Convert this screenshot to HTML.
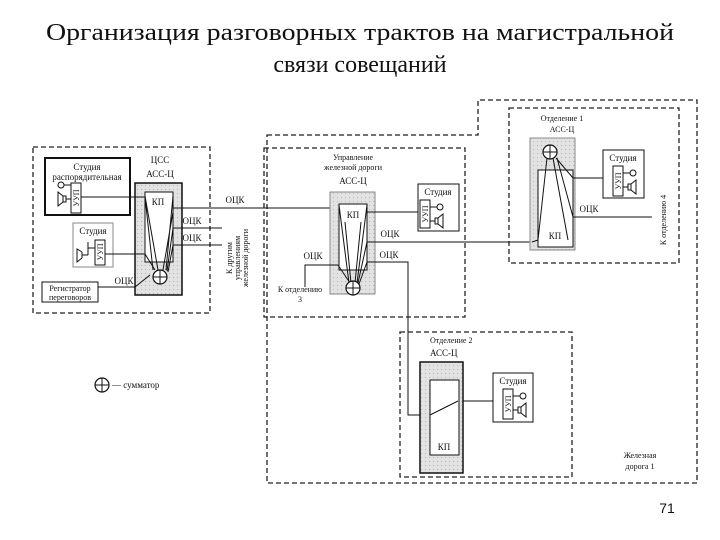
<!DOCTYPE html>
<html><head><meta charset="utf-8"><style>
html,body{margin:0;padding:0;background:#fff;}
svg{display:block;}
text{font-family:"Liberation Serif",serif;fill:#111;}
</style></head><body>
<svg width="720" height="540" viewBox="0 0 720 540" xmlns="http://www.w3.org/2000/svg">
<defs>
<pattern id="dots" width="4" height="4" patternUnits="userSpaceOnUse">
<rect width="4" height="4" fill="#e2e2e2"/><rect x="1" y="1" width="1" height="1" fill="#b8b8b8"/>
</pattern>
<g id="sum"><circle cx="0" cy="0" r="7" fill="#fff" stroke="#111" stroke-width="1.2"/><line x1="-7" y1="0" x2="7" y2="0" stroke="#111"/><line x1="0" y1="-7" x2="0" y2="7" stroke="#111"/></g>
<g id="dev" stroke="#111" fill="none" stroke-width="1">
<line x1="0" y1="7" x2="7" y2="7"/><circle cx="10" cy="7" r="3"/>
<line x1="0" y1="21" x2="5" y2="21"/><rect x="5" y="18" width="3" height="6"/><path d="M8 18 L13 14 L13 28 L8 24"/>
</g>
</defs>

<text x="360" y="40" font-size="24" text-anchor="middle" textLength="628" lengthAdjust="spacingAndGlyphs">Организация разговорных трактов на магистральной</text>
<text x="360" y="72" font-size="24" text-anchor="middle">связи совещаний</text>

<g stroke="#222" stroke-width="1.3" fill="none" stroke-dasharray="5,3">
<path d="M267 135 L478 135 L478 100 L697 100 L697 483 L267 483 Z"/>
<rect x="33" y="147" width="177" height="166"/>
<rect x="264" y="148" width="201" height="169"/>
<rect x="509" y="108" width="170" height="155"/>
<rect x="400" y="332" width="172" height="145"/>
</g>

<!-- ЦСС -->
<rect x="45" y="158" width="85" height="57" fill="#fff" stroke="#111" stroke-width="2"/>
<text x="87" y="170" font-size="9" text-anchor="middle">Студия</text>
<text x="87" y="180" font-size="9" text-anchor="middle">распорядительная</text>
<rect x="71" y="183" width="10" height="30" fill="#fff" stroke="#111"/>
<text transform="translate(79,198) rotate(-90)" font-size="8" text-anchor="middle">УУП</text>
<g transform="translate(71,178) scale(-1,1) translate(0,0)"><use href="#dev"/></g>
<rect x="73" y="223" width="40" height="44" fill="#fff" stroke="#888"/>
<text x="93" y="234" font-size="9" text-anchor="middle">Студия</text>
<rect x="95" y="240" width="10" height="25" fill="#fff" stroke="#111"/>
<text transform="translate(103,252) rotate(-90)" font-size="8" text-anchor="middle">УУП</text>
<path d="M95 248 L88 248 M88 255 L82 255 M82 252 L82 258 M82 252 L77 249 L77 262 L82 258" stroke="#111" fill="none"/>
<line x1="88" y1="242" x2="88" y2="255" stroke="#111"/>
<rect x="42" y="282" width="56" height="20" fill="#fff" stroke="#111"/>
<text x="70" y="291" font-size="8" text-anchor="middle">Регистратор</text>
<text x="70" y="300" font-size="8" text-anchor="middle">переговоров</text>
<text x="160" y="163" font-size="9" text-anchor="middle">ЦСС</text>
<text x="160" y="177" font-size="9" text-anchor="middle">АСС-Ц</text>
<rect x="135" y="183" width="47" height="112" fill="url(#dots)" stroke="#111" stroke-width="1.5"/>
<rect x="145" y="192" width="28" height="70" fill="#fff" stroke="#111"/>
<text x="158" y="205" font-size="9" text-anchor="middle">КП</text>
<g stroke="#111" fill="none">
<path d="M81 197 L145 197 L153 270 M145 196 L158 270 M173 196 L166 270 M173 212 L163 270 M173 228 L167 271 M173 245 L168 272 M105 254 L145 254 L155 270 M98 287 L135 287 L150 275"/>
<line x1="173" y1="208" x2="339" y2="208"/>
<line x1="173" y1="228" x2="222" y2="228"/>
<line x1="173" y1="245" x2="222" y2="245"/>
</g>
<use href="#sum" x="160" y="277"/>
<text x="235" y="203" font-size="9" text-anchor="middle">ОЦК</text>
<text x="192" y="224" font-size="9" text-anchor="middle">ОЦК</text>
<text x="192" y="241" font-size="9" text-anchor="middle">ОЦК</text>
<text x="124" y="284" font-size="9" text-anchor="middle">ОЦК</text>
<g font-size="8" text-anchor="middle">
<text transform="translate(232,258) rotate(-90)">К другим</text>
<text transform="translate(240,258) rotate(-90)">управлениям</text>
<text transform="translate(248,258) rotate(-90)">железной дороги</text>
</g>

<!-- Управление -->
<text x="353" y="160" font-size="8" text-anchor="middle">Управление</text>
<text x="353" y="170" font-size="8" text-anchor="middle">железной дороги</text>
<text x="353" y="184" font-size="9" text-anchor="middle">АСС-Ц</text>
<rect x="330" y="192" width="45" height="102" fill="url(#dots)" stroke="#888"/>
<rect x="339" y="204" width="28" height="66" fill="#fff" stroke="#111"/>
<text x="353" y="218" font-size="9" text-anchor="middle">КП</text>
<g stroke="#111" fill="none">
<path d="M339 205 L349 283 M367 205 L357 283 M345 222 L351 283 M361 222 L355 283 M367 242 L358 283 M367 262 L359 284 M338 265 L350 283"/>
<line x1="367" y1="212" x2="418" y2="212"/>
<line x1="367" y1="242" x2="532" y2="242"/>
<path d="M338 265 L305 265 L305 287"/>
<path d="M367 262 L408 262 L408 415 L430 415 L458 401 L493 401"/>
</g>
<use href="#sum" x="353" y="288"/>
<text x="390" y="237" font-size="9" text-anchor="middle">ОЦК</text>
<text x="313" y="259" font-size="9" text-anchor="middle">ОЦК</text>
<text x="389" y="258" font-size="9" text-anchor="middle">ОЦК</text>
<text x="300" y="292" font-size="8" text-anchor="middle">К отделению</text>
<text x="300" y="302" font-size="8" text-anchor="middle">3</text>
<rect x="418" y="184" width="41" height="47" fill="#fff" stroke="#111"/>
<text x="438" y="195" font-size="9" text-anchor="middle">Студия</text>
<rect x="420" y="200" width="10" height="28" fill="#fff" stroke="#111"/>
<text transform="translate(428,214) rotate(-90)" font-size="8" text-anchor="middle">УУП</text>
<use href="#dev" x="430" y="200"/>

<!-- Отделение 1 -->
<text x="562" y="121" font-size="8" text-anchor="middle">Отделение 1</text>
<text x="562" y="132" font-size="8" text-anchor="middle">АСС-Ц</text>
<rect x="530" y="138" width="45" height="112" fill="url(#dots)" stroke="#888"/>
<rect x="538" y="170" width="35" height="77" fill="#fff" stroke="#111"/>
<text x="555" y="239" font-size="9" text-anchor="middle">КП</text>
<g stroke="#111" fill="none">
<path d="M547 158 L538 240 L532 242 M553 158 L568 240 M556 158 L573 178 L603 178 M557 158 L573 217 L652 217"/>
</g>
<use href="#sum" x="550" y="152"/>
<text x="589" y="212" font-size="9" text-anchor="middle">ОЦК</text>
<text transform="translate(666,220) rotate(-90)" font-size="8" text-anchor="middle">К отделению 4</text>
<rect x="603" y="150" width="41" height="48" fill="#fff" stroke="#111"/>
<text x="623" y="161" font-size="9" text-anchor="middle">Студия</text>
<rect x="613" y="166" width="10" height="30" fill="#fff" stroke="#111"/>
<text transform="translate(621,181) rotate(-90)" font-size="8" text-anchor="middle">УУП</text>
<use href="#dev" x="623" y="166"/>

<!-- Отделение 2 -->
<text x="430" y="343" font-size="8">Отделение 2</text>
<text x="430" y="356" font-size="9">АСС-Ц</text>
<rect x="420" y="362" width="43" height="111" fill="url(#dots)" stroke="#111" stroke-width="1.5"/>
<rect x="430" y="380" width="29" height="75" fill="#fff" stroke="#111"/>
<line x1="430" y1="415" x2="458" y2="401" stroke="#111"/>
<text x="444" y="450" font-size="9" text-anchor="middle">КП</text>
<rect x="493" y="373" width="40" height="49" fill="#fff" stroke="#111"/>
<text x="513" y="384" font-size="9" text-anchor="middle">Студия</text>
<rect x="503" y="389" width="10" height="30" fill="#fff" stroke="#111"/>
<text transform="translate(511,404) rotate(-90)" font-size="8" text-anchor="middle">УУП</text>
<use href="#dev" x="513" y="389"/>

<text x="640" y="458" font-size="8" text-anchor="middle">Железная</text>
<text x="640" y="469" font-size="8" text-anchor="middle">дорога 1</text>

<use href="#sum" x="102" y="385"/>
<text x="112" y="388" font-size="9">— сумматор</text>

<text x="667" y="513" font-size="14" text-anchor="middle" style="font-family:'Liberation Sans',sans-serif">71</text>
</svg>
</body></html>
